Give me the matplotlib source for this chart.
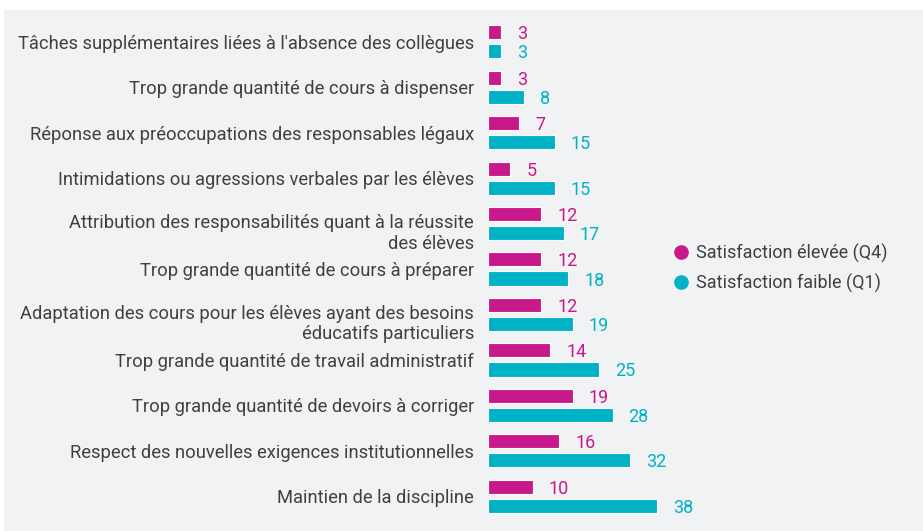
import matplotlib
matplotlib.use('Agg')
from matplotlib import pyplot
from matplotlib.lines import Line2D
from matplotlib.patches import Rectangle
import matplotlib.transforms as mtransforms

categories = [
    "Tâches supplémentaires liées à l'absence des collègues",
    "Trop grande quantité de cours à dispenser",
    "Réponse aux préoccupations des responsables légaux",
    "Intimidations ou agressions verbales par les élèves",
    "Attribution des responsabilités quant à la réussite\ndes élèves",
    "Trop grande quantité de cours à préparer",
    "Adaptation des cours pour les élèves ayant des besoins\néducatifs particuliers",
    "Trop grande quantité de travail administratif",
    "Trop grande quantité de devoirs à corriger",
    "Respect des nouvelles exigences institutionnelles",
    "Maintien de la discipline",
]
high_q4 = [3, 3, 7, 5, 12, 12, 12, 14, 19, 16, 10]
low_q1 = [3, 8, 15, 15, 17, 18, 19, 25, 28, 32, 38]
series_names = ["Satisfaction élevée (Q4)", "Satisfaction faible (Q1)"]

magenta = '#c8198a'
teal = '#00b2c6'
text_color = '#404040'
pyplot.rcParams['font.family'] = ['Roboto', 'DejaVu Sans']

W, H = 923, 531
fig = pyplot.figure(figsize=(W / 100, H / 100), dpi=100)
fig.patch.set_facecolor('white')
fig.patches.append(Rectangle((4 / W, 0), 1, 1 - 10 / H, transform=fig.transFigure,
                             facecolor='#f1f2f4', edgecolor='none', zorder=-10))

# axes: x=0 at 488px, 4.45 px per unit
left, right = 488, 488 + 4.45 * 50
top, bottom = 19, 519
ax = fig.add_axes([left / W, 1 - bottom / H, (right - left) / W, (bottom - top) / H])
ax.set_facecolor('none')
ax.set_zorder(5)
ax.set_xlim(0, 50)
ax.set_ylim(len(categories) - 0.5, -0.5)
ax.axis('off')

bh = 0.31
off = 0.21
ypos = list(range(len(categories)))
ax.barh([y - off for y in ypos], high_q4, height=bh, color=magenta, edgecolor='white', linewidth=0.8)
ax.barh([y + off for y in ypos], low_q1, height=bh, color=teal, edgecolor='white', linewidth=0.8)

val_tr = mtransforms.offset_copy(ax.transData, fig=fig, x=16, y=-7, units='dots')
for y, v in zip(ypos, high_q4):
    ax.text(v, y - off, str(v), transform=val_tr, color=magenta, fontsize=13,
            ha='left', va='baseline')
for y, v in zip(ypos, low_q1):
    ax.text(v, y + off, str(v), transform=val_tr, color=teal, fontsize=13,
            ha='left', va='baseline')

# baseline of the last line; wrapped labels hang a bit lower
for y, lab in zip(ypos, categories):
    nlines = lab.count('\n') + 1
    lab_tr = mtransforms.offset_copy(ax.get_yaxis_transform(), fig=fig, x=-14,
                                     y=-7 - 18 * (nlines - 1), units='dots')
    ax.text(0, y, lab, transform=lab_tr, color=text_color, fontsize=13.2,
            ha='right', va='baseline', linespacing=1.2)

handles = [Line2D([], [], marker='o', linestyle='none', markersize=9.5, color=magenta),
           Line2D([], [], marker='o', linestyle='none', markersize=9.5, color=teal)]
fig.legend(handles, series_names, loc='center left', bbox_to_anchor=(658 / W, 1 - 268 / H),
           frameon=False, fontsize=13, handlelength=0.8, handletextpad=0.4,
           labelspacing=0.6, labelcolor=text_color)

fig.savefig('out.png', dpi=100)
